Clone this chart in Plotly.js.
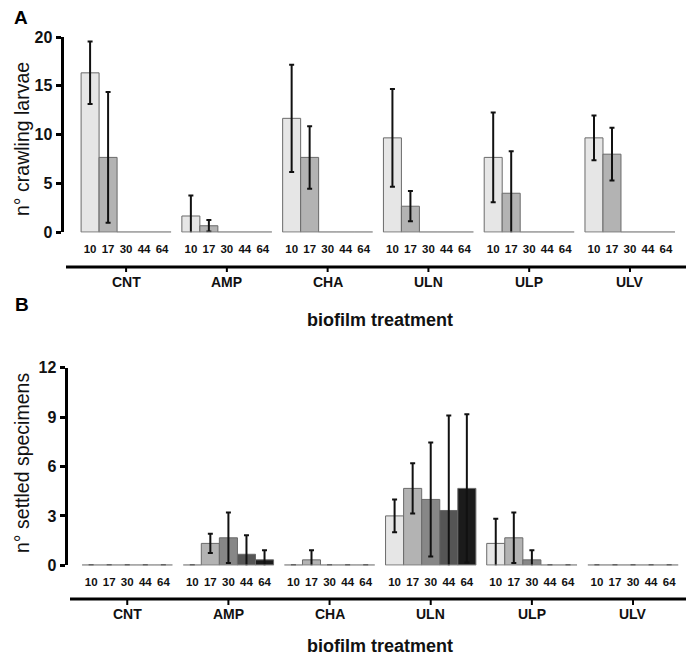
<!DOCTYPE html>
<html>
<head>
<meta charset="utf-8">
<script src="https://cdn.plot.ly/plotly-3.0.1.min.js"></script>
<style>html,body{margin:0;padding:0;background:#fff;}#chart{width:686px;height:659px;}</style>
</head>
<body>
<div id="chart"></div>
<script>
// ---- data ----
const treatments = ["CNT", "AMP", "CHA", "ULN", "ULP", "ULV"];
const temps = ["10", "17", "30", "44", "64"];
const titleA = "n° crawling larvae";
const titleB = "n° settled specimens";
const xTitle = "biofilm treatment";

// Panel A: nº crawling larvae (mean, sd) per temperature, by treatment
const crawl10 = [16.33, 1.67, 11.67, 9.67, 7.67, 9.67];
const crawl10Err = [3.2, 2.1, 5.5, 5.0, 4.6, 2.3];
const crawl17 = [7.67, 0.67, 7.67, 2.67, 4.0, 8.0];
const crawl17Err = [6.7, 0.6, 3.2, 1.55, 4.3, 2.7];
const crawl30 = [0, 0, 0, 0, 0, 0];
const crawl44 = [0, 0, 0, 0, 0, 0];
const crawl64 = [0, 0, 0, 0, 0, 0];

// Panel B: nº settled specimens
const settle10 = [0, 0, 0, 3.0, 1.33, 0];
const settle10Err = [0, 0, 0, 1.0, 1.5, 0];
const settle17 = [0, 1.33, 0.33, 4.67, 1.67, 0];
const settle17Err = [0, 0.58, 0.58, 1.53, 1.53, 0];
const settle30 = [0, 1.67, 0, 4.0, 0.33, 0];
const settle30Err = [0, 1.53, 0, 3.46, 0.58, 0];
const settle44 = [0, 0.67, 0, 3.33, 0, 0];
const settle44Err = [0, 1.15, 0, 5.77, 0, 0];
const settle64 = [0, 0.33, 0, 4.67, 0, 0];
const settle64Err = [0, 0.58, 0, 4.5, 0, 0];

const colors = ["#e6e6e6", "#b3b3b3", "#878787", "#555555", "#1b1b1b"];

// ---- layout helpers ----
const STEP = 5.6;
const xpos = (j) => treatments.map((_, g) => g * STEP + j);
const centers = treatments.map((_, g) => g * STEP + 2);
const tickvals = [], ticktext = [];
treatments.forEach((_, g) => temps.forEach((t, j) => { tickvals.push(g * STEP + j); ticktext.push(t); }));

const FONT = "Liberation Sans, Arial, sans-serif";
const H = 659, W = 686;
const py = (p) => 1 - p / H;

function barTrace(vals, errs, j, xa, ya) {
  const tr = {
    type: "bar", x: xpos(j), y: vals, width: 1, xaxis: xa, yaxis: ya,
    marker: { color: colors[j], line: { color: "#6a6a6a", width: 1 } },
    hoverinfo: "skip", showlegend: false
  };
  if (errs) {
    tr.error_y = { type: "data", array: errs.map(e => e > 0 ? e : null), visible: true,
      color: "#111", thickness: 2, width: 2.5 };
  }
  return tr;
}

const data = [
  barTrace(crawl10, crawl10Err, 0, "x", "y"),
  barTrace(crawl17, crawl17Err, 1, "x", "y"),
  barTrace(crawl30, null, 2, "x", "y"),
  barTrace(crawl44, null, 3, "x", "y"),
  barTrace(crawl64, null, 4, "x", "y"),
  barTrace(settle10, settle10Err, 0, "x2", "y2"),
  barTrace(settle17, settle17Err, 1, "x2", "y2"),
  barTrace(settle30, settle30Err, 2, "x2", "y2"),
  barTrace(settle44, settle44Err, 3, "x2", "y2"),
  barTrace(settle64, settle64Err, 4, "x2", "y2")
];

function xaxisDef(domain, range, anchor) {
  return {
    domain: domain, range: range, anchor: anchor,
    showline: false, zeroline: false, showgrid: false,
    tickmode: "array", tickvals: tickvals, ticktext: ticktext,
    ticks: "outside", ticklen: 6, tickcolor: "rgba(0,0,0,0)",
    tickfont: { family: FONT, size: 11.5, color: "#111", weight: "bold" },
    fixedrange: true
  };
}
function yaxisDef(domain, range, dtick, anchor) {
  return {
    domain: domain, range: range, anchor: anchor, dtick: dtick, tick0: 0,
    showline: true, linewidth: 3.5, linecolor: "#000", mirror: false,
    zeroline: false, showgrid: false,
    ticks: "outside", ticklen: 5, tickwidth: 3, tickcolor: "#000",
    tickfont: { family: FONT, size: 16, color: "#111", weight: "bold" },
    title: { text: "" },
    fixedrange: true
  };
}

const shapes = [];
// per-group baselines
[["x", "y"], ["x2", "y2"]].forEach(([xa, ya]) => {
  treatments.forEach((_, g) => {
    shapes.push({ type: "line", xref: xa, yref: ya, x0: g * STEP - 0.5, x1: g * STEP + 4.5, y0: 0, y1: 0,
      line: { color: "#8a8a8a", width: 1.5 } });
  });
});
// thick category lines
const lineA = py(267), lineB = py(599);
shapes.push({ type: "line", xref: "paper", yref: "paper", x0: 66 / W, x1: 1, y0: lineA, y1: lineA, line: { color: "#000", width: 3 } });
shapes.push({ type: "line", xref: "paper", yref: "paper", x0: 70 / W, x1: 1, y0: lineB, y1: lineB, line: { color: "#000", width: 3 } });
centers.forEach(c => {
  shapes.push({ type: "line", xref: "x", yref: "paper", x0: c, x1: c, y0: lineA, y1: py(272), line: { color: "#000", width: 2 } });
  shapes.push({ type: "line", xref: "x2", yref: "paper", x0: c, x1: c, y0: lineB, y1: py(605), line: { color: "#000", width: 2 } });
});

const annotations = [];
treatments.forEach((t, g) => {
  annotations.push({ xref: "x", yref: "paper", x: centers[g], y: py(282), text: t, showarrow: false,
    xanchor: "center", yanchor: "middle", font: { family: FONT, size: 14, color: "#111", weight: "bold" } });
  annotations.push({ xref: "x2", yref: "paper", x: centers[g], y: py(614), text: t, showarrow: false,
    xanchor: "center", yanchor: "middle", font: { family: FONT, size: 14, color: "#111", weight: "bold" } });
});
annotations.push({ xref: "paper", yref: "paper", x: 380 / W, y: py(320), text: xTitle, showarrow: false,
  xanchor: "center", yanchor: "middle", font: { family: FONT, size: 18, color: "#111", weight: "bold" } });
annotations.push({ xref: "paper", yref: "paper", x: 380 / W, y: py(646), text: xTitle, showarrow: false,
  xanchor: "center", yanchor: "middle", font: { family: FONT, size: 18, color: "#111", weight: "bold" } });
annotations.push({ xref: "paper", yref: "paper", x: 22 / W, y: py(139), text: titleA, showarrow: false, textangle: -90,
  xanchor: "center", yanchor: "middle", font: { family: FONT, size: 19.5, color: "#111" } });
annotations.push({ xref: "paper", yref: "paper", x: 22 / W, y: py(463), text: titleB, showarrow: false, textangle: -90,
  xanchor: "center", yanchor: "middle", font: { family: FONT, size: 19.5, color: "#111" } });
annotations.push({ xref: "paper", yref: "paper", x: 12 / W, y: py(18), text: "A", showarrow: false,
  xanchor: "left", yanchor: "middle", font: { family: FONT, size: 19, color: "#000", weight: "bold" } });
annotations.push({ xref: "paper", yref: "paper", x: 13 / W, y: py(305), text: "B", showarrow: false,
  xanchor: "left", yanchor: "middle", font: { family: FONT, size: 19, color: "#000", weight: "bold" } });

const layout = {
  width: W, height: H,
  margin: { l: 0, r: 0, t: 0, b: 0, pad: 0 },
  paper_bgcolor: "#fff", plot_bgcolor: "#fff",
  barmode: "overlay", showlegend: false,
  xaxis: xaxisDef([64 / W, 680 / W], [-1.45, 32.78], "y"),
  yaxis: yaxisDef([py(232.3), py(37)], [0, 20], 5, "x"),
  xaxis2: xaxisDef([68 / W, 680 / W], [-1.28, 32.6], "y2"),
  yaxis2: yaxisDef([py(565.3), py(367.7)], [0, 12], 3, "x2"),
  shapes: shapes, annotations: annotations
};

Plotly.newPlot("chart", data, layout, { displayModeBar: false, staticPlot: true });
</script>
</body>
</html>
